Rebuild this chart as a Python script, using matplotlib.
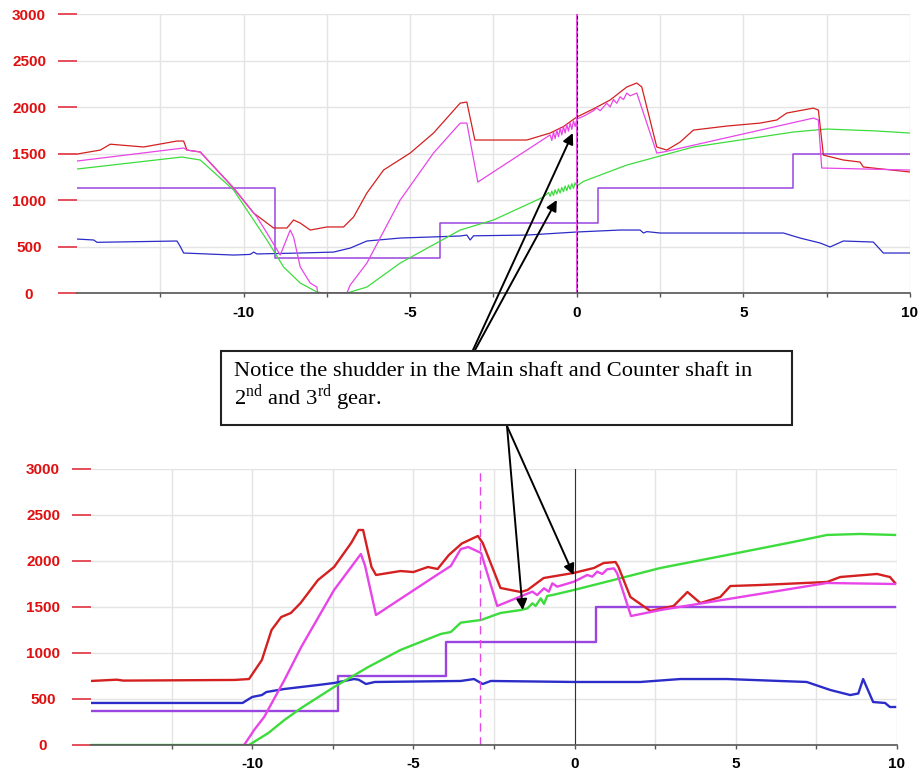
import matplotlib
matplotlib.use("Agg")
import matplotlib.pyplot as plt
from matplotlib.patches import Rectangle

plt.rcParams['font.family'] = ['Liberation Sans', 'DejaVu Sans']
plt.rcParams['mathtext.fontset'] = 'custom'
plt.rcParams['mathtext.rm'] = 'Liberation Serif'

# ---------------- top chart data ----------------
top_red_x = [-15.0, -14.3, -14.0, -13.0, -12.0, -11.8, -11.7, -11.3, -10.8, -10.3, -9.7, -9.1, -8.7,
             -8.5, -8.3, -8.0, -7.5, -7.0, -6.7, -6.3, -5.8, -5.0, -4.3, -3.5, -3.3, -3.06, -2.5,
             -1.5, -0.8, -0.4, 0.0, 0.5, 1.0, 1.5, 1.8, 1.95, 2.4, 2.7, 3.1, 3.5, 4.5, 5.5, 6.0,
             6.3, 7.1, 7.25, 7.4, 8.0, 8.5, 8.6, 10.0]
top_red_y = [1494, 1537, 1600, 1570, 1634, 1634, 1537, 1516, 1322, 1129, 860, 699, 699,
             785, 752, 677, 710, 710, 817, 1075, 1322, 1505, 1720, 2042, 2053, 1645, 1645,
             1645, 1720, 1790, 1892, 1980, 2075, 2215, 2258, 2215, 1570, 1537, 1623, 1752, 1795, 1827, 1860,
             1935, 1988, 1967, 1483, 1430, 1408, 1355, 1301]

top_mag_x = [-15.0, -11.8, -11.7, -11.3, -10.8, -10.3, -9.6, -9.3, -8.9, -8.6, -8.5, -8.3, -8.0,
             -7.8, -7.78, -6.9, -6.8, -6.3, -5.3, -4.3, -3.5, -3.3, -2.97,
             -0.8, -0.75, -0.7, -0.65, -0.6, -0.55, -0.5, -0.45, -0.4, -0.35, -0.3, -0.25, -0.2,
             -0.15, -0.1, -0.05, 0.0, 0.2, 0.5, 0.6, 0.7, 0.9, 1.0, 1.1, 1.2, 1.3, 1.4, 1.5, 1.6,
             1.8, 2.4, 2.6, 7.1, 7.25, 7.35, 10.0]
top_mag_y = [1419, 1559, 1537, 1516, 1322, 1129, 817, 645, 408, 677, 602, 280, 107,
             64, 0, 0, 86, 322, 1000, 1505, 1827, 1827, 1193,
             1700, 1640, 1730, 1660, 1750, 1680, 1770, 1700, 1790, 1720, 1810, 1740, 1830,
             1760, 1850, 1790, 1870, 1900, 1960, 1990, 1960, 2040, 2000, 2080, 2040, 2110, 2080, 2150, 2120,
             2150, 1505, 1516, 1881, 1860, 1344, 1322]

top_grn_x = [-15.0, -11.85, -11.3, -10.3, -9.3, -8.8, -8.3, -7.8, -7.6, -6.9, -6.3, -5.3, -3.5, -2.5,
             -1.0, -0.85, -0.8, -0.75, -0.7, -0.65, -0.6, -0.55, -0.5, -0.45, -0.4, -0.35, -0.3,
             -0.25, -0.2, -0.15, -0.1, -0.05, 0.0, 0.2, 1.5, 3.5, 5.5, 6.5, 7.5, 9.0, 10.0]
top_grn_y = [1333, 1462, 1430, 1107, 570, 280, 107, 11, 0, 0, 64, 322, 677, 785,
             1032, 1080, 1040, 1095, 1050, 1110, 1065, 1120, 1075, 1135, 1090, 1150, 1100,
             1160, 1115, 1175, 1125, 1185, 1150, 1200, 1376, 1570, 1677, 1731, 1763, 1742, 1720]

top_blu_x = [-15.0, -14.5, -14.4, -12.0, -11.9, -11.8, -10.3, -9.8, -9.7, -9.6, -8.3, -7.3, -6.8,
             -6.3, -5.3, -3.5, -3.3, -3.2, -3.1, -1.5, 0.0, 1.3, 1.9, 2.0, 2.1, 2.5, 6.2, 6.7,
             7.3, 7.6, 8.0, 8.9, 9.2, 10.0]
top_blu_y = [580, 570, 545, 559, 500, 430, 408, 415, 440, 420, 430, 440, 483,
             559, 591, 613, 623, 570, 615, 623, 656, 677, 677, 645, 660, 645, 645, 591,
             538, 495, 559, 548, 430, 430]

top_gear_x = [-15.0, -9.07, -4.1, 0.63, 6.5, 10.0]
top_gear_y = [1125, 375, 750, 1125, 1500, 1500]

# ---------------- bottom chart data ----------------
bot_red_x = [-15.0, -14.2, -14.0, -10.55, -10.1, -9.7, -9.4, -9.1, -8.8, -8.5, -7.96, -7.46, -6.93,
             -6.7, -6.56, -6.3, -6.16, -5.4, -5.0, -4.55, -4.25, -3.9, -3.5, -3.0, -2.85, -2.3,
             -1.67, -1.46, -0.96, -0.03, 0.6, 0.9, 1.27, 1.36, 1.73, 2.35, 3.07, 3.5, 3.9, 4.52,
             4.83, 5.76, 7.83, 8.24, 9.38, 9.78, 9.94]
bot_red_y = [696, 710, 700, 707, 717, 924, 1250, 1391, 1435, 1543, 1793, 1935, 2196,
             2337, 2337, 1935, 1848, 1891, 1880, 1935, 1913, 2065, 2190, 2272, 2196, 1707,
             1663, 1685, 1815, 1870, 1924, 1978, 1989, 1935, 1609, 1457, 1511, 1663, 1543, 1609,
             1728, 1739, 1772, 1826, 1859, 1826, 1761]

bot_mag_x = [-10.25, -9.94, -9.63, -9.0, -8.48, -7.46, -6.63, -6.5, -6.16, -4.37, -3.84, -3.53,
             -3.3, -2.9, -2.4, -1.57, -1.31, -1.16, -0.95, -0.80, -0.69, -0.54, -0.02, 0.19,
             0.39, 0.55, 0.70, 0.86, 1.01, 1.22, 1.32, 1.75, 2.66, 7.83, 9.94]
bot_mag_y = [0, 163, 304, 707, 1065, 1685, 2076, 1950, 1413, 1826, 1946, 2130,
             2152, 2087, 1511, 1630, 1667, 1630, 1703, 1667, 1757, 1721, 1775, 1812,
             1848, 1830, 1884, 1859, 1910, 1920, 1866, 1402, 1467, 1761, 1750]

bot_grn_x = [-15.0, -10.1, -9.5, -9.0, -8.48, -7.46, -6.4, -5.4, -4.15, -3.84, -3.53, -2.9, -2.3,
             -1.67, -1.46, -1.31, -1.21, -1.05, -0.95, -0.85, -0.69, -0.02, 1.2, 2.66, 4.73,
             6.78, 7.83, 8.85, 9.94]
bot_grn_y = [0, 0, 130, 272, 402, 630, 848, 1033, 1207, 1228, 1330, 1359, 1435,
             1467, 1486, 1540, 1511, 1594, 1533, 1620, 1630, 1685, 1793, 1924, 2065,
             2207, 2283, 2294, 2283]

bot_blu_x = [-15.0, -10.3, -10.0, -9.7, -9.56, -9.0, -7.96, -7.46, -6.84, -6.7, -6.47, -6.2,
             -3.53, -3.12, -2.85, -2.6, 0.0, 2.04, 3.28, 4.73, 7.2, 7.93, 8.55, 8.8, 8.95,
             9.26, 9.63, 9.78, 9.94]
bot_blu_y = [457, 457, 522, 543, 576, 609, 652, 674, 717, 710, 663, 685,
             696, 717, 663, 696, 685, 685, 717, 717, 685, 598, 543, 560, 717,
             467, 457, 413, 413]

bot_gear_x = [-15.0, -7.33, -4.0, 0.65, 9.94]
bot_gear_y = [375, 750, 1125, 1500, 1500]

x_major = [-10, -5, 0, 5, 10]
x_minor = [-12.5, -7.5, -2.5, 2.5, 7.5]
y_ticks = [0, 500, 1000, 1500, 2000, 2500, 3000]

note_line1 = "Notice the shudder in the Main shaft and Counter shaft in"
note_line2 = r"2$^{\mathrm{nd}}$ and 3$^{\mathrm{rd}}$ gear."

RED = '#d42020'
MAG = '#e845e8'
GRN = '#3ddc3d'
BLU = '#2c2cc8'
PUR = '#9b45e0'

W, H = 923, 774
fig = plt.figure(figsize=(W / 100, H / 100), dpi=100)
fig.patch.set_facecolor('white')

ax1 = fig.add_axes([77 / W, 1 - 293 / H, 833 / W, 279 / H])
ax2 = fig.add_axes([91 / W, 1 - 745 / H, 806 / W, 276 / H])


def style(ax):
    ax.set_xlim(-15, 10)
    ax.set_ylim(0, 3000)
    ax.set_xticks(x_major)
    ax.set_xticks(x_minor, minor=True)
    ax.set_yticks(y_ticks)
    ax.set_xticklabels([str(v) for v in x_major], fontweight='bold', fontsize=11)
    ax.set_yticklabels([str(v) for v in y_ticks], fontweight='bold', fontsize=11, color='#e01010')
    for lbl in ax.get_yticklabels():
        lbl.set_ha('center')
    ax.tick_params(axis='y', length=13.5, width=1.2, color='#e03040', pad=21, direction='out')
    ax.tick_params(axis='x', which='both', length=3, width=1, color='#555555', pad=6)
    ax.grid(True, which='both', color='#e4e4e4', lw=1)
    ax.set_axisbelow(True)
    for s in ['top', 'right', 'left']:
        ax.spines[s].set_visible(False)
    ax.spines['bottom'].set_color('#555555')
    ax.spines['bottom'].set_linewidth(1.2)


style(ax1)
lw1 = 0.9
ax1.step(top_gear_x, top_gear_y, where='post', color=PUR, lw=1.1)
ax1.plot(top_blu_x, top_blu_y, color=BLU, lw=lw1)
ax1.plot(top_grn_x, top_grn_y, color=GRN, lw=lw1)
ax1.plot(top_red_x, top_red_y, color=RED, lw=lw1)
ax1.plot(top_mag_x, top_mag_y, color=MAG, lw=lw1)
ax1.axvline(0, color=MAG, lw=1.4)
ax1.axvline(0, color='black', lw=0.6, dashes=(4, 3))

style(ax2)
lw2 = 1.7
ax2.step(bot_gear_x, bot_gear_y, where='post', color=PUR, lw=lw2)
ax2.plot(bot_blu_x, bot_blu_y, color=BLU, lw=lw2)
ax2.plot(bot_grn_x, bot_grn_y, color=GRN, lw=lw2)
ax2.plot(bot_red_x, bot_red_y, color=RED, lw=lw2)
ax2.plot(bot_mag_x, bot_mag_y, color=MAG, lw=lw2)
ax2.axvline(-2.94, color=MAG, lw=1.0, dashes=(6, 4))
ax2.axvline(0, color='#333333', lw=0.8)

# annotation box
box = Rectangle((221 / W, 1 - 425 / H), (792 - 221) / W, (425 - 351) / H,
                transform=fig.transFigure, facecolor='white', edgecolor='#222222',
                lw=1.5, zorder=5)
fig.patches.append(box)
fig.text(234 / W, 1 - 371 / H, note_line1, family='Liberation Serif', fontsize=16.2,
         va='center', ha='left', zorder=6)
fig.text(234 / W, 1 - 398 / H, note_line2, family='Liberation Serif', fontsize=16.2,
         va='center', ha='left', zorder=6)

arrow = dict(arrowstyle='-|>', color='black', lw=1.4, mutation_scale=16, shrinkA=0, shrinkB=0)
ax1.annotate('', xy=(-0.12, 1720), xytext=(473 / W, 1 - 350 / H), textcoords='figure fraction',
             arrowprops=arrow, annotation_clip=False)
ax1.annotate('', xy=(-0.6, 1000), xytext=(475 / W, 1 - 350 / H), textcoords='figure fraction',
             arrowprops=arrow, annotation_clip=False)
ax2.annotate('', xy=(-1.61, 1467), xytext=(507 / W, 1 - 426 / H), textcoords='figure fraction',
             arrowprops=arrow, annotation_clip=False)
ax2.annotate('', xy=(-0.03, 1848), xytext=(507 / W, 1 - 426 / H), textcoords='figure fraction',
             arrowprops=arrow, annotation_clip=False)

fig.savefig('out.png', dpi=100)
